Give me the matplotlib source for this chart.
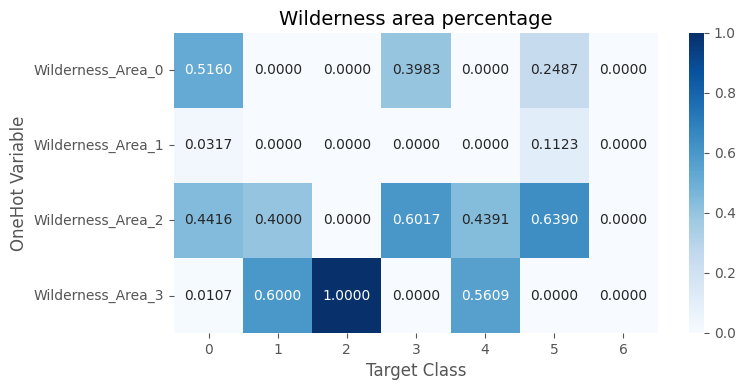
import matplotlib
matplotlib.use("Agg")
import matplotlib.pyplot as plt
import seaborn as sns
import numpy as np
import pandas as pd

rows = ["Wilderness_Area_0", "Wilderness_Area_1", "Wilderness_Area_2", "Wilderness_Area_3"]
cols = ["0", "1", "2", "3", "4", "5", "6"]
area0 = [0.5160, 0.0000, 0.0000, 0.3983, 0.0000, 0.2487, 0.0000]
area1 = [0.0317, 0.0000, 0.0000, 0.0000, 0.0000, 0.1123, 0.0000]
area2 = [0.4416, 0.4000, 0.0000, 0.6017, 0.4391, 0.6390, 0.0000]
area3 = [0.0107, 0.6000, 1.0000, 0.0000, 0.5609, 0.0000, 0.0000]

df = pd.DataFrame([area0, area1, area2, area3], index=rows, columns=cols)

grey = "#555555"
plt.rcParams.update({
    "xtick.color": grey, "ytick.color": grey,
    "xtick.labelcolor": grey, "ytick.labelcolor": grey,
    "axes.labelcolor": grey,
})

fig = plt.figure(figsize=(7.45, 3.9), dpi=100)
ax = fig.add_axes([174/745, 57/390, 484/745, 300/390])
cax = fig.add_axes([689/745, 57/390, 15/745, 300/390])

sns.heatmap(df, ax=ax, cbar_ax=cax, cmap="Blues", vmin=0, vmax=1,
            annot=True, fmt=".4f", annot_kws={"fontsize": 10})
ax.set_title("Wilderness area percentage", fontsize=14, color="black")
ax.set_xlabel("Target Class", fontsize=12)
ax.set_ylabel("OneHot Variable", fontsize=12)
ax.tick_params(labelsize=10)
ax.set_yticklabels(rows, rotation=0)
cax.tick_params(labelsize=10)

fig.savefig("out.png", dpi=100)
